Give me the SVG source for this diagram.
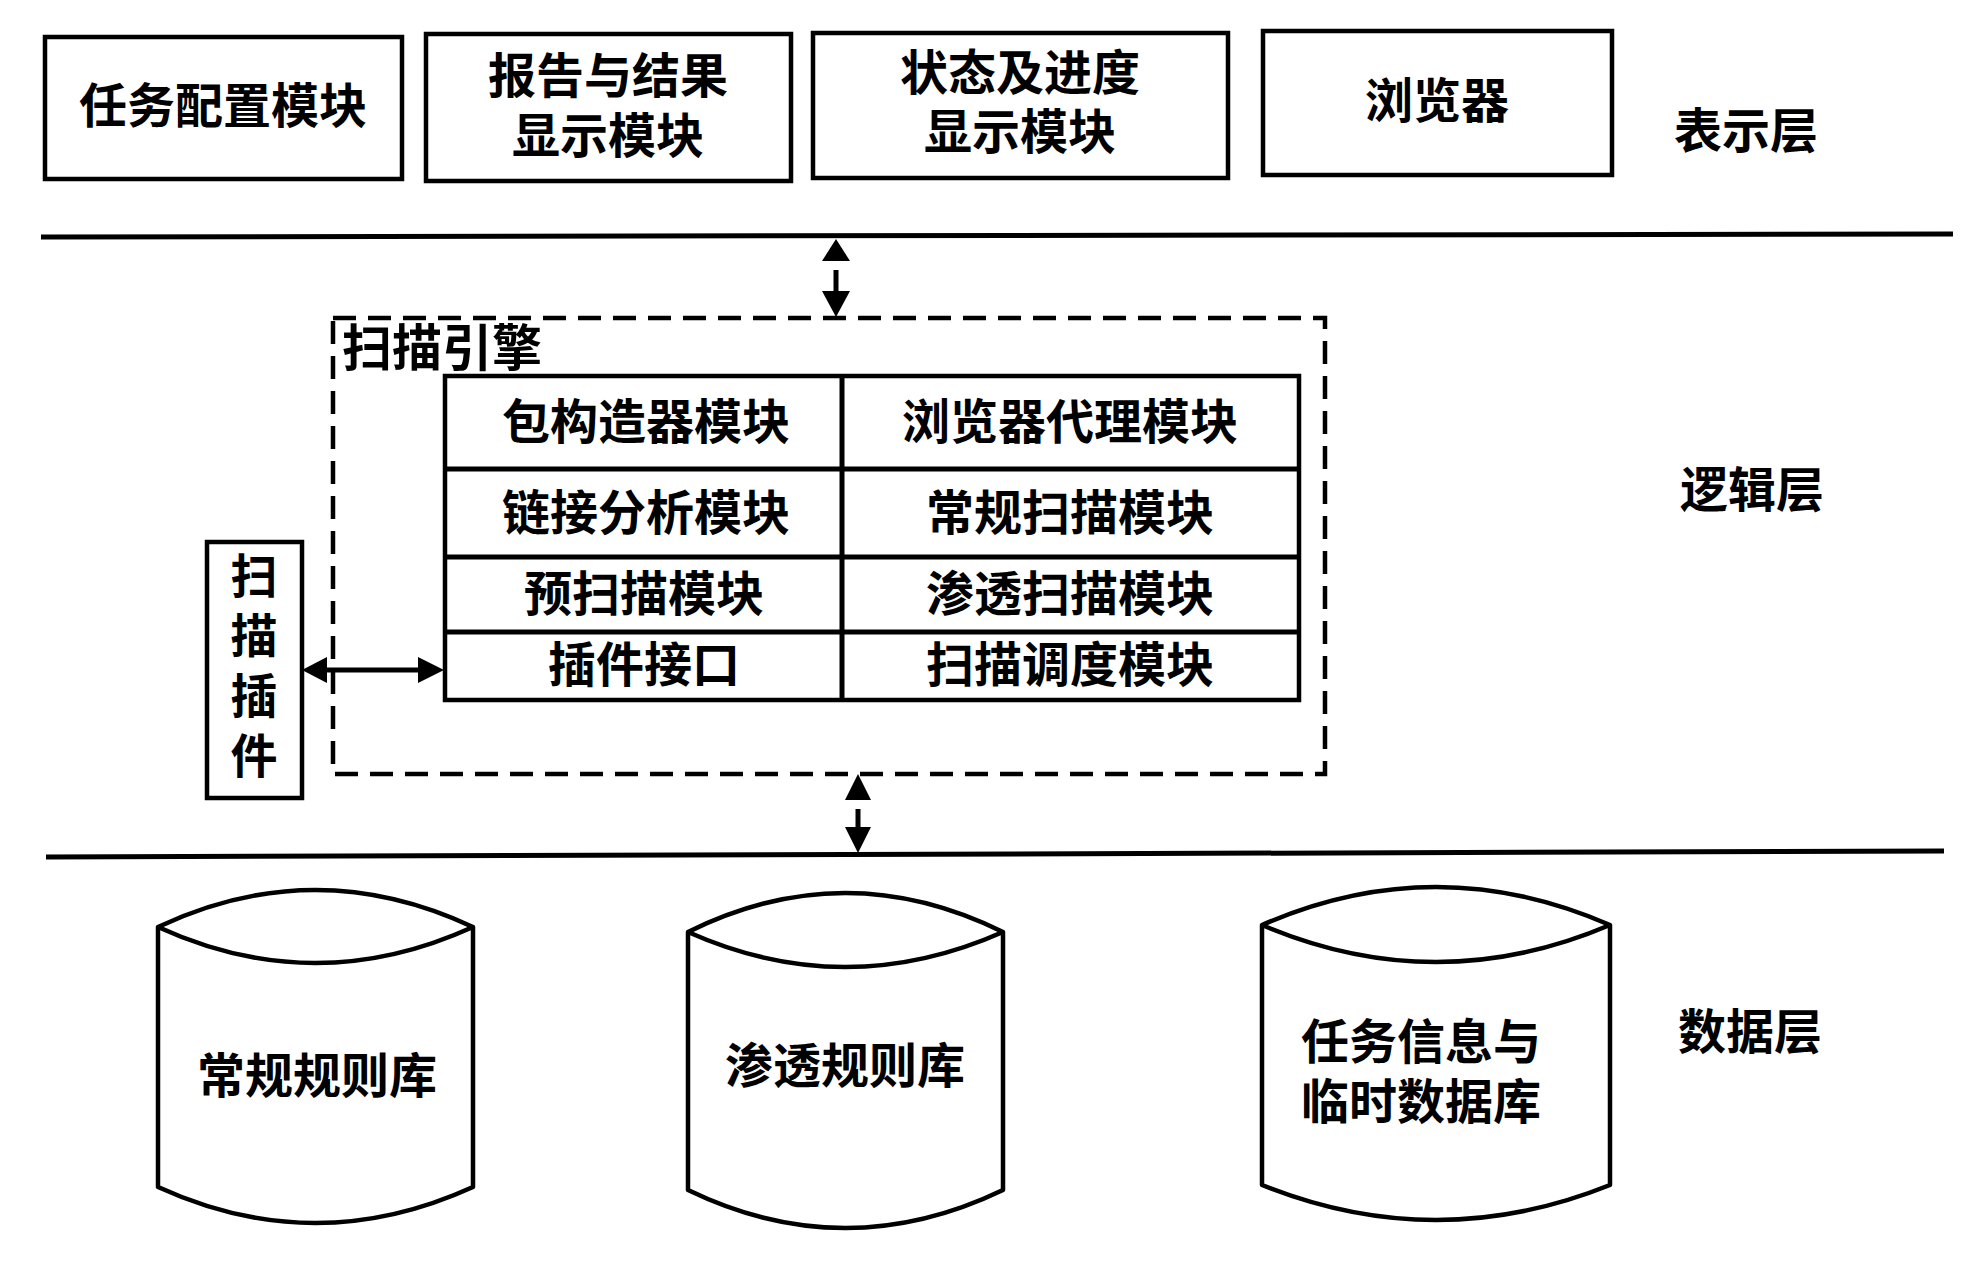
<svg xmlns="http://www.w3.org/2000/svg" width="1988" height="1269" viewBox="0 0 1988 1269">
<style>
.bx{fill:#fff;stroke:#000;stroke-width:4.5}
.ln{stroke:#000;stroke-width:5;fill:none}
.dash{fill:none;stroke:#000;stroke-width:4.5;stroke-dasharray:23 12}
.sh{stroke:#000;stroke-width:5;fill:none}
.ah{fill:#000;stroke:none}
.cy{fill:#fff;stroke:#000;stroke-width:4.5;stroke-linejoin:round}
.t{font-family:"Noto Sans CJK SC","Noto Sans CJK TC",sans-serif;font-weight:700;font-size:48px;fill:#000;text-anchor:middle;dominant-baseline:central}
.tl{text-anchor:start}
.v{writing-mode:vertical-rl;letter-spacing:13px;font-size:47px}
</style>
<rect width="1988" height="1269" fill="#fff"/>

<g id="layer-lines">
<line class="ln" x1="41" y1="237" x2="1953" y2="234"/>
<line class="ln" x1="46" y1="857" x2="1944" y2="851"/>
</g>

<g id="box-task-config">
<rect class="bx" x="45" y="37" width="357" height="142"/>
<text class="t" x="223" y="102">任务配置模块</text>
</g>
<g id="box-report">
<rect class="bx" x="426" y="34" width="365" height="147"/>
<text class="t" x="608" y="72">报告与结果<tspan x="608" dy="60">显示模块</tspan></text>
</g>
<g id="box-status">
<rect class="bx" x="813" y="33" width="415" height="145"/>
<text class="t" x="1020" y="69">状态及进度<tspan x="1020" dy="59">显示模块</tspan></text>
</g>
<g id="box-browser">
<rect class="bx" x="1263" y="31" width="349" height="144"/>
<text class="t" x="1437" y="97">浏览器</text>
</g>
<g id="label-presentation"><text class="t" x="1746" y="127">表示层</text></g>
<g id="label-logic"><text class="t" x="1752" y="486">逻辑层</text></g>
<g id="label-data"><text class="t" x="1750" y="1028">数据层</text></g>

<g id="scan-engine">
<rect class="dash" x="333" y="318" width="992" height="456"/>
<text class="t tl" x="342" y="344" style="font-size:50px">扫描引擎</text>
</g>

<g id="engine-table">
<rect class="bx" x="445" y="376" width="854" height="324"/>
<line class="ln" x1="842" y1="376" x2="842" y2="700"/>
<line class="ln" x1="445" y1="469" x2="1299" y2="469"/>
<line class="ln" x1="445" y1="557" x2="1299" y2="557"/>
<line class="ln" x1="445" y1="632" x2="1299" y2="632"/>
</g>
<g id="mod-packet"><text class="t" x="646" y="418">包构造器模块</text></g>
<g id="mod-link"><text class="t" x="646" y="509">链接分析模块</text></g>
<g id="mod-prescan"><text class="t" x="644" y="590">预扫描模块</text></g>
<g id="mod-plugin-if"><text class="t" x="644" y="661">插件接口</text></g>
<g id="mod-browser-proxy"><text class="t" x="1070" y="418">浏览器代理模块</text></g>
<g id="mod-regular"><text class="t" x="1070" y="509">常规扫描模块</text></g>
<g id="mod-pentest"><text class="t" x="1070" y="590">渗透扫描模块</text></g>
<g id="mod-schedule"><text class="t" x="1070" y="661">扫描调度模块</text></g>

<g id="scan-plugin">
<rect class="bx" x="207" y="542" width="95" height="256"/>
<text class="t v" x="254" y="672">扫描插件</text>
</g>

<g id="db-regular">
<path class="cy" d="M158 927 L158 1187 Q315 1259 473 1187 L473 927 Q315 853 158 927 Z"/>
<path class="cy" d="M158 927 Q315 999 473 927" fill="none"/>
<text class="t" x="317" y="1072">常规规则库</text>
</g>
<g id="db-pentest">
<path class="cy" d="M688 932 L688 1190 Q845 1266 1003 1190 L1003 932 Q845 854 688 932 Z"/>
<path class="cy" d="M688 932 Q845 1002 1003 932" fill="none"/>
<text class="t" x="845" y="1062">渗透规则库</text>
</g>
<g id="db-task">
<path class="cy" d="M1262 925 L1262 1185 Q1436 1255 1610 1185 L1610 925 Q1436 849 1262 925 Z"/>
<path class="cy" d="M1262 925 Q1436 999 1610 925" fill="none"/>
<text class="t" x="1421" y="1038">任务信息与<tspan x="1421" dy="60">临时数据库</tspan></text>
</g>

<g id="connectors">
<polygon class="ah" points="836,239 822,261 850,261"/>
<line class="sh" x1="836" y1="270" x2="836" y2="293"/>
<polygon class="ah" points="836,317 822,291 850,291"/>

<polygon class="ah" points="858,774 845,800 871,800"/>
<line class="sh" x1="858" y1="809" x2="858" y2="829"/>
<polygon class="ah" points="858,853 845,827 871,827"/>

<line class="sh" x1="325" y1="670" x2="420" y2="670"/>
<polygon class="ah" points="302,670 327,657 327,683"/>
<polygon class="ah" points="444,670 418,657 418,683"/>
</g>
</svg>
